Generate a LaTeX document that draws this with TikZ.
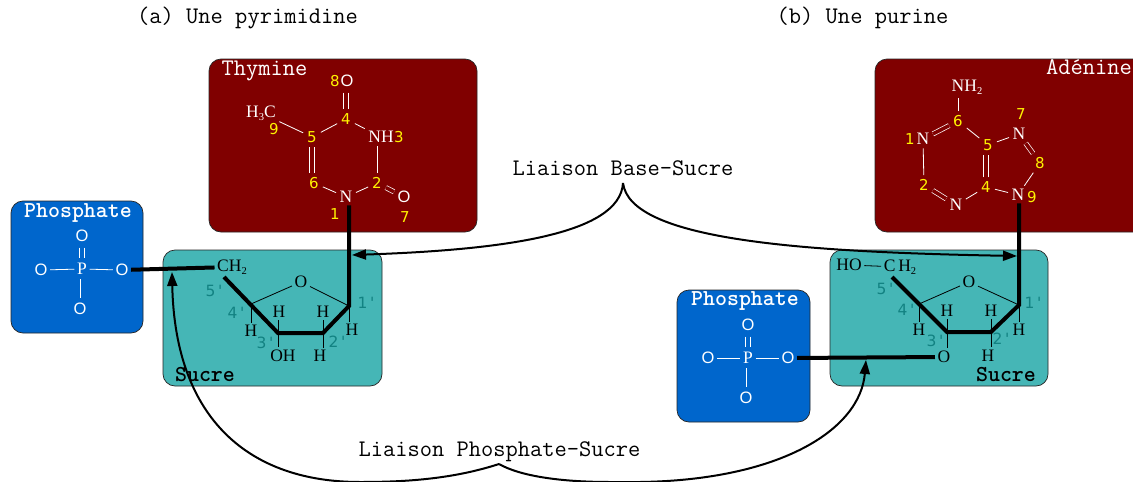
\documentclass[tikz,border=0pt]{standalone}
\usepackage{fontspec}
\usetikzlibrary{arrows.meta}
\newfontfamily\atomfont{Liberation Serif}
\newfontfamily\ringfont{Liberation Sans}
\newfontfamily\numfont{DejaVu Sans}
\definecolor{basecol}{HTML}{800000}
\definecolor{sugarcol}{HTML}{45B6B6}
\definecolor{phoscol}{HTML}{0066CC}
\definecolor{primecol}{HTML}{128282}
\newcommand{\lowdigit}[1]{\raisebox{-3pt}{\fontsize{10.5}{10.5}\selectfont #1}}
\tikzset{
  panel/.style={draw=black!85,line width=.7pt,rounded corners=12pt},
  bigttl/.style={font=\ttfamily\fontsize{23.8}{23.8}\selectfont,inner sep=0pt,text=black,anchor=base},
  boxname/.style={font=\ttfamily\bfseries\fontsize{22.8}{22.8}\selectfont,inner sep=0pt,anchor=base},
  atomw/.style={font=\atomfont\fontsize{17.5}{17.5}\selectfont,text=white,inner sep=2.5pt},
  atomk/.style={font=\atomfont\fontsize{17.5}{17.5}\selectfont,text=black,inner sep=2.5pt},
  oxy/.style={font=\ringfont\fontsize{16.5}{16.5}\selectfont,text=white,inner sep=2.5pt},
  yel/.style={font=\numfont\fontsize{15}{15}\selectfont,text=yellow,inner sep=3pt},
  prime/.style={font=\numfont\fontsize{15.5}{15.5}\selectfont,text=primecol,inner sep=0pt},
  bondw/.style={draw=white,line width=.8pt,shorten >=1pt,shorten <=1pt},
  bondk/.style={draw=black,line width=.8pt},
  dblm/.style={draw=white,line width=.7pt,double=basecol,double distance=3.6pt,shorten >=1pt,shorten <=1pt},
  heavy/.style={draw=black,line width=4pt},
  link/.style={draw=black,line width=2pt,-{Triangle[length=14pt,width=10pt]}},
  twinl/.style={bondw,transform canvas={xshift=-2.2pt}},
  twinr/.style={bondw,transform canvas={xshift=2.2pt}}
}
\begin{document}
\begin{tikzpicture}[x=1pt,y=-1pt]
\useasboundingbox (0,0) rectangle (1133,482);
\clip (0,0) rectangle (1133,482);
% panels
\fill[white] (0,0) rectangle (1133,482);
\path[panel,fill=basecol] (209,59) rectangle (477,232);
\path[panel,fill=basecol] (875,59) rectangle (1160,232);
\path[panel,fill=sugarcol] (163,250) rectangle (382,386);
\path[panel,fill=sugarcol] (830,250) rectangle (1048,386);
\path[panel,fill=phoscol] (11,201) rectangle (143,333);
\path[panel,fill=phoscol] (677,290) rectangle (810,422);
% titles
\node[bigttl] (ta) at (247.5,23) {(a) Une pyrimidine};
\node[bigttl] (tb) at (862.5,23) {(b) Une purine};
\node[bigttl] (lbs) at (623,175) {Liaison Base-Sucre};
\node[bigttl] (lps) at (499.5,456) {Liaison Phosphate-Sucre};
\node[bigttl,text=white] (thy) at (264.5,75) {Thymine};
\node[bigttl,text=white] (ade) at (1089,74.5) {Adénine};
\node[boxname,text=white] (pl) at (78,217) {Phosphate};
\node[boxname,text=white] (pr) at (745,305.5) {Phosphate};
\node[boxname,text=black] (sl) at (205,381) {Sucre};
\node[boxname,text=black] (sr) at (1006,381) {Sucre};
% thymine
\node[oxy] (tO8) at (347,81) {O};
\node[yel] (tl8) at (335,81) {8};
\node[yel] (t4) at (346,119) {4};
\node[yel] (t5) at (312,137) {5};
\node[atomw] (tN3) at (381,137) {NH};
\node[yel] (tl3) at (399,137) {3};
\node[yel] (t6) at (314,183) {6};
\node[yel] (t2) at (377,183) {2};
\node[atomw] (tN1) at (346,197) {N};
\node[yel] (tl1) at (335,214) {1};
\node[oxy] (tO7) at (404,197) {O};
\node[yel] (tl7) at (405,217) {7};
\node[atomw] (tMe) at (261,113) {H\lowdigit{3}C};
\node[yel] (tl9) at (274,129) {9};
\draw[twinl,shorten <=3pt] (t4 |- tO8.south) -- (t4.north);
\draw[twinr,shorten <=3pt] (t4 |- tO8.south) -- (t4.north);
\draw[bondw] (tMe) -- (t5);
\draw[bondw] (t5) -- (t4);
\draw[bondw] (t4) -- (tN3);
\draw[bondw] (t2) -- (t2 |- tN3.south);
\draw[bondw] (t2) -- (tN1);
\draw[bondw] (tN1) -- (t6);
\draw[twinl] (t5 |- t6.north) -- (t5.south);
\draw[twinr] (t5 |- t6.north) -- (t5.south);
\draw[dblm] (t2) -- (tO7);
% adenine
\node[atomw] (aNH) at (967,87) {NH\lowdigit{2}};
\node[yel] (a6) at (958,121) {6};
\node[yel] (al7) at (1021,114) {7};
\node[atomw] (aN7) at (1019,134) {N};
\node[yel] (a5) at (988,145) {5};
\node[yel] (al1) at (910,139) {1};
\node[atomw] (aN1) at (923,139) {N};
\node[yel] (a8) at (1040,163) {8};
\node[yel] (a2) at (924,185) {2};
\node[yel] (a4) at (986,187) {4};
\node[atomw] (aN9) at (1018,195) {N};
\node[yel] (al9) at (1032,197) {9};
\node[atomw] (aN3) at (956,205) {N};
\draw[bondw] (a6) -- (a6 |- aNH.south);
\draw[dblm] (aN1) -- (a6);
\draw[bondw] (a6) -- (a5);
\draw[bondw] (a5) -- (aN7);
\draw[dblm] (aN7) -- (a8);
\draw[bondw] (a8) -- (aN9);
\draw[bondw] (aN9) -- (a4);
\draw[twinl] (a4) -- (a4 |- a5.south);
\draw[twinr] (a4) -- (a4 |- a5.south);
\draw[bondw] (a4) -- (aN3);
\draw[dblm] (aN3) -- (a2);
\draw[bondw] (a2) -- (aN1);
% left sugar
\node[atomk] (lCH) at (232,267) {CH\lowdigit{2}};
\node[atomk] (lO) at (301,282) {O};
\node[atomk] (lH4) at (251,331) {H};
\node[atomk] (lH3) at (279,312) {H};
\node[atomk] (lOH) at (283,356) {OH};
\node[atomk] (lH2) at (323,312) {H};
\node[atomk] (lH2b) at (320,356) {H};
\node[atomk] (lH1) at (352,330) {H};
\node[prime] (lp5) at (214,291) {5\,'};
\node[prime] (lp4) at (236,313) {4\,'};
\node[prime] (lp3) at (265,343) {3\,'};
\node[prime] (lp2) at (337,342) {2\,'};
\node[prime] (lp1) at (366,303) {1\,'};
\coordinate (ls5) at (224,277);
\coordinate (lc4) at (251,304);
\coordinate (lc3) at (278,333);
\coordinate (lc2) at (323,333);
\coordinate (lc1) at (349,306);
\draw[bondk] (lc4) -- (lO);
\draw[bondk] (lO) -- (lc1);
\draw[bondk] (lc4) -- (lc4 |- lH4.north);
\draw[bondk] (lc3 |- lH3.south) -- (lc3 |- lOH.north);
\draw[bondk] (lc2 |- lH2.south) -- (lc2 |- lH2b.north);
\draw[bondk] (lc1) -- (lc1 |- lH1.north);
% left phosphate
\node[atomw] (lpP) at (82,269) {P};
\node[oxy] (lpT) at (82,236) {O};
\node[oxy] (lpL) at (41,270) {O};
\node[oxy] (lpR) at (122,270) {O};
\node[oxy] (lpB) at (80,309) {O};
\draw[twinl,shorten >=3pt,shorten <=3pt] (lpT) -- (lpP);
\draw[twinr,shorten >=3pt,shorten <=3pt] (lpT) -- (lpP);
\draw[bondw,shorten <=0pt,shorten >=0pt] (lpL) -- (lpP);
\draw[bondw,shorten <=0pt,shorten >=0pt] (lpP) -- (lpR);
\draw[bondw,shorten <=2pt,shorten >=2pt] (lpB |- lpP.south) -- (lpB);
% right sugar
\node[atomk] (rHO) at (849,265) {HO};
\node[atomk] (rCH) at (900,267) {C\,H\lowdigit{2}};
\node[atomk] (rO) at (969,282) {O};
\node[atomk] (rH4) at (919,330) {H};
\node[atomk] (rH3) at (947,311) {H};
\node[atomk] (rO3) at (944,357) {O};
\node[atomk] (rH2) at (991,311) {H};
\node[atomk,inner sep=.5pt] (rH2b) at (988,356) {H};
\node[atomk] (rH1) at (1019,330) {H};
\node[prime] (rp5) at (885,289) {5\,'};
\node[prime] (rp4) at (906,310) {4\,'};
\node[prime] (rp3) at (935,341) {3\,'};
\node[prime] (rp2) at (1001,339) {2\,'};
\node[prime] (rp1) at (1033,303) {1\,'};
\coordinate (rs5) at (892,277);
\coordinate (rc4) at (919,304);
\coordinate (rc3) at (947,332);
\coordinate (rc2) at (991,332);
\coordinate (rc1) at (1019,305);
\draw[bondk] (rHO) -- (rCH);
\draw[bondk] (rc4) -- (rO);
\draw[bondk] (rO) -- (rc1);
\draw[bondk] (rc4) -- (rc4 |- rH4.north);
\draw[bondk] (rc3 |- rH3.south) -- (rc3 |- rO3.north);
\draw[bondk,shorten >=3pt] (rc2 |- rH2.south) -- (rc2 |- rH2b.north);
\draw[bondk] (rc1) -- (rc1 |- rH1.north);
% right phosphate
\node[atomw] (rpP) at (748,358) {P};
\node[oxy] (rpT) at (748,325) {O};
\node[oxy] (rpL) at (708,358) {O};
\node[oxy] (rpR) at (788,358) {O};
\node[oxy] (rpB) at (746,398) {O};
\draw[twinl,shorten >=3pt,shorten <=3pt] (rpT) -- (rpP);
\draw[twinr,shorten >=3pt,shorten <=3pt] (rpT) -- (rpP);
\draw[bondw,shorten <=0pt,shorten >=0pt] (rpL) -- (rpP);
\draw[bondw,shorten <=0pt,shorten >=0pt] (rpP) -- (rpR);
\draw[bondw,shorten <=2pt,shorten >=2pt] (rpB |- rpP.south) -- (rpB);
% heavy backbone
\draw[heavy,line join=miter] (ls5) -- (lc3) -- (lc2) -- (lc1) -- (lc1 |- tN1.south);
\draw[heavy,line join=miter] (rs5) -- (rc3) -- (rc2) -- (rc1) -- (rc1 |- aN9.south);
\draw[heavy] (lpR) -- (lCH);
\draw[heavy] (rpR) -- (rO3);
% linkage curves
\coordinate (bstip) at (623,183);
\coordinate (pstip) at (499,464);
\coordinate (lbt) at (352,255);
\coordinate (rbt) at (1017,256);
\coordinate (lpt) at (172,272);
\coordinate (rpt) at (866,360);
\draw[link] (bstip) .. controls (620,235) and (500,250) .. (lbt);
\draw[link] (bstip) .. controls (630,240) and (800,252) .. (rbt);
\draw[link] (pstip) .. controls (450,480) and (400,482) .. (360,482) .. controls (250,482) and (175,420) .. (lpt);
\draw[link] (pstip) .. controls (520,476) and (560,482) .. (610,482) -- (640,482) .. controls (780,480) and (860,430) .. (rpt);
\end{tikzpicture}
\end{document}
